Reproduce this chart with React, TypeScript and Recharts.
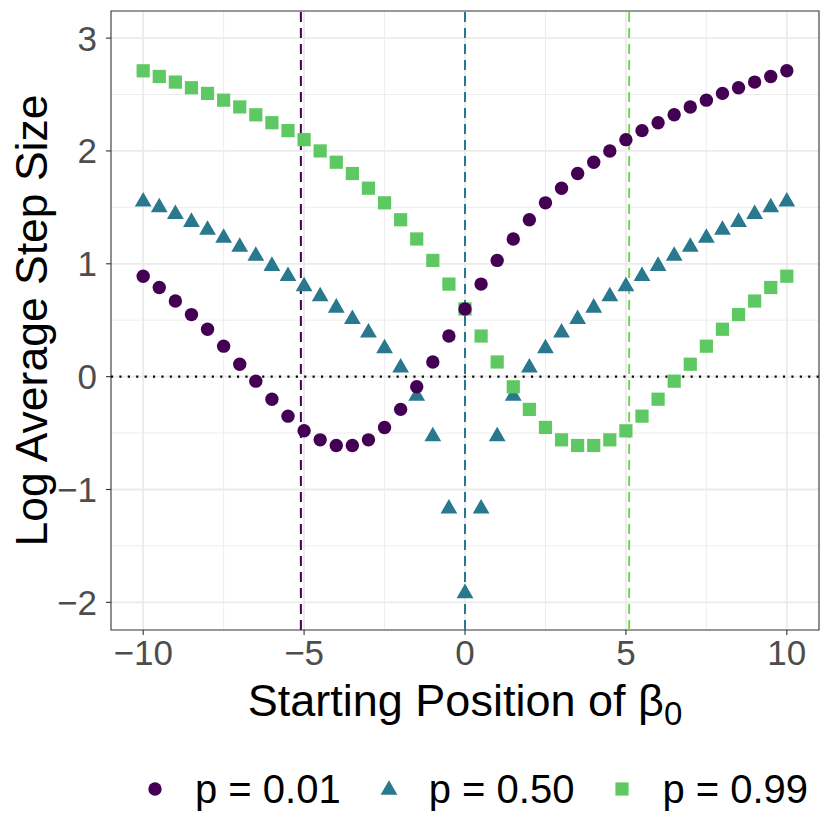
import React from "react";
import {
  ScatterChart,
  Scatter,
  XAxis,
  YAxis,
  CartesianGrid,
  ReferenceLine,
  ReferenceArea,
  Legend,
} from "recharts";

// starting positions of beta_0
export const starts = [
  -10, -9.5, -9, -8.5, -8, -7.5, -7, -6.5, -6, -5.5, -5, -4.5, -4, -3.5, -3, -2.5, -2, -1.5, -1, -0.5, 0,
  0.5, 1, 1.5, 2, 2.5, 3, 3.5, 4, 4.5, 5, 5.5, 6, 6.5, 7, 7.5, 8, 8.5, 9, 9.5, 10,
];

// log average step size, one list per p
export const p01 = [
  0.89, 0.79, 0.67, 0.55, 0.42, 0.27, 0.11, -0.04, -0.2, -0.35, -0.48, -0.56, -0.61, -0.61, -0.56, -0.45, -0.29,
  -0.09, 0.13, 0.36, 0.6, 0.82, 1.03, 1.22, 1.39, 1.54, 1.67, 1.8, 1.9, 2.0, 2.1, 2.18, 2.25, 2.32, 2.39, 2.45,
  2.51, 2.56, 2.61, 2.66, 2.71,
];
export const p50 = [
  1.55, 1.5, 1.44, 1.37, 1.3, 1.23, 1.15, 1.07, 0.98, 0.89, 0.8, 0.71, 0.61, 0.51, 0.39, 0.25, 0.08, -0.17,
  -0.53, -1.17, -1.92, -1.17, -0.53, -0.17, 0.08, 0.25, 0.39, 0.51, 0.61, 0.71, 0.8, 0.89, 0.98, 1.07, 1.15,
  1.23, 1.3, 1.37, 1.44, 1.5, 1.55,
];
export const p99 = [
  2.71, 2.66, 2.61, 2.56, 2.51, 2.45, 2.39, 2.32, 2.25, 2.18, 2.1, 2.0, 1.9, 1.8, 1.67, 1.54, 1.39, 1.22, 1.03,
  0.82, 0.6, 0.36, 0.13, -0.09, -0.29, -0.45, -0.56, -0.61, -0.61, -0.56, -0.48, -0.35, -0.2, -0.04, 0.11, 0.27,
  0.42, 0.55, 0.67, 0.79, 0.89,
];

export const seriesLabels = ["p = 0.01", "p = 0.50", "p = 0.99"];
export const cutoffs = [-5.1, 0, 5.1];

export const xTicks = [-10, -5, 0, 5, 10];
export const yTicks = [-2, -1, 0, 1, 2, 3];
const xMinor = [-7.5, -2.5, 2.5, 7.5];
const yMinor = [-1.5, -0.5, 0.5, 1.5, 2.5];

const PURPLE = "#440154";
const TEAL = "#2A788E";
const GREEN = "#5EC962";
const GREEN_LINE = "#7AD151";
const FONT = "'Liberation Sans', Arial, Helvetica, sans-serif";

const toPoints = (vals: number[]) => starts.map((x, i) => ({ x, y: vals[i] }));

const fmt = (v: number) => (v < 0 ? "\u2212" + Math.abs(v) : String(v));

const Dot = ({ cx, cy }: any) => <circle cx={cx} cy={cy} r={6.7} fill={PURPLE} />;
const Tri = ({ cx, cy }: any) => {
  const r = 9.7;
  const w = r * 0.866;
  return (
    <path
      d={`M${cx},${cy - r}L${cx + w},${cy + r / 2}L${cx - w},${cy + r / 2}Z`}
      fill={TEAL}
    />
  );
};
const Sq = ({ cx, cy }: any) => <rect x={cx - 6.6} y={cy - 6.6} width={13.2} height={13.2} fill={GREEN} />;

function XTitle({ viewBox }: any) {
  const cx = viewBox.x + viewBox.width / 2;
  return (
    <text x={cx} y={viewBox.y + 86} textAnchor="middle" fontSize={45} fontFamily={FONT} fill="#000">
      Starting Position of β
      <tspan fontSize={33} dy={9}>
        0
      </tspan>
    </text>
  );
}

function YTitle({ viewBox }: any) {
  const cy = viewBox.y + viewBox.height / 2;
  return (
    <text
      x={47}
      y={cy}
      transform={`rotate(-90, 47, ${cy})`}
      textAnchor="middle"
      fontSize={44.5}
      fontFamily={FONT}
      fill="#000"
    >
      Log Average Step Size
    </text>
  );
}

function LegendIcon({ i }: { i: number }) {
  return (
    <svg width={20} height={20} style={{ display: "block" }}>
      {i === 0 && <Dot cx={10} cy={10} />}
      {i === 1 && <Tri cx={10} cy={11} />}
      {i === 2 && <Sq cx={10} cy={10} />}
    </svg>
  );
}

function LegendBox() {
  return (
    <div
      style={{
        height: 70,
        boxSizing: "border-box",
        paddingBottom: 12,
        paddingLeft: 145,
        display: "flex",
        alignItems: "center",
        fontFamily: FONT,
        fontSize: 40,
        color: "#000",
        whiteSpace: "pre",
      }}
    >
      {seriesLabels.map((s, i) => (
        <div key={s} style={{ display: "flex", alignItems: "center", marginLeft: i === 0 ? 0 : 38 }}>
          <LegendIcon i={i} />
          <span style={{ marginLeft: 30 }}>{s}</span>
        </div>
      ))}
    </div>
  );
}

export default function App() {
  const tickStyle = { fill: "#4D4D4D", fontSize: 35, fontFamily: FONT };
  return (
    <div style={{ width: 830, height: 830 }}>
      <style>{"body{margin:0}"}</style>
      <ScatterChart width={830} height={830} margin={{ top: 11, right: 11, left: 0, bottom: 0 }}>
        <CartesianGrid
          stroke="#EBEBEB"
          strokeWidth={0.9}
          horizontalValues={yMinor}
          verticalValues={xMinor}
        />
        <CartesianGrid
          stroke="#EBEBEB"
          strokeWidth={1.8}
          horizontalValues={yTicks}
          verticalValues={xTicks}
        />
        <XAxis
          type="number"
          dataKey="x"
          domain={[-11, 11]}
          ticks={xTicks}
          allowDataOverflow
          tickFormatter={fmt}
          tick={tickStyle}
          tickSize={5}
          tickMargin={5}
          tickLine={{ stroke: "#333333", strokeWidth: 1.1 }}
          axisLine={false}
          height={130}
          label={(p: any) => <XTitle viewBox={p.viewBox} />}
        />
        <YAxis
          type="number"
          dataKey="y"
          domain={[-2.245, 3.24]}
          ticks={yTicks}
          allowDataOverflow
          tickFormatter={fmt}
          tick={tickStyle}
          tickSize={5}
          tickMargin={9}
          tickLine={{ stroke: "#333333", strokeWidth: 1.1 }}
          axisLine={false}
          width={111}
          label={(p: any) => <YTitle viewBox={p.viewBox} />}
        />
        <ReferenceLine y={0} stroke="#000" strokeWidth={2.1} strokeDasharray="2.1 6.3" />
        <ReferenceLine x={cutoffs[0]} stroke={PURPLE} strokeWidth={2} strokeDasharray="10 6" />
        <ReferenceLine x={cutoffs[1]} stroke={TEAL} strokeWidth={2} strokeDasharray="10 6" />
        <ReferenceLine x={cutoffs[2]} stroke={GREEN_LINE} strokeWidth={2} strokeDasharray="10 6" />
        <Scatter name={seriesLabels[1]} data={toPoints(p50)} shape={Tri} isAnimationActive={false} />
        <Scatter name={seriesLabels[2]} data={toPoints(p99)} shape={Sq} isAnimationActive={false} />
        <Scatter name={seriesLabels[0]} data={toPoints(p01)} shape={Dot} isAnimationActive={false} />
        <ReferenceArea
          x1={-11}
          x2={11}
          y1={-2.245}
          y2={3.24}
          fill="none"
          stroke="#333333"
          strokeWidth={1.1}
          ifOverflow="visible"
        />
        <Legend verticalAlign="bottom" align="left" content={() => <LegendBox />} />
      </ScatterChart>
    </div>
  );
}
